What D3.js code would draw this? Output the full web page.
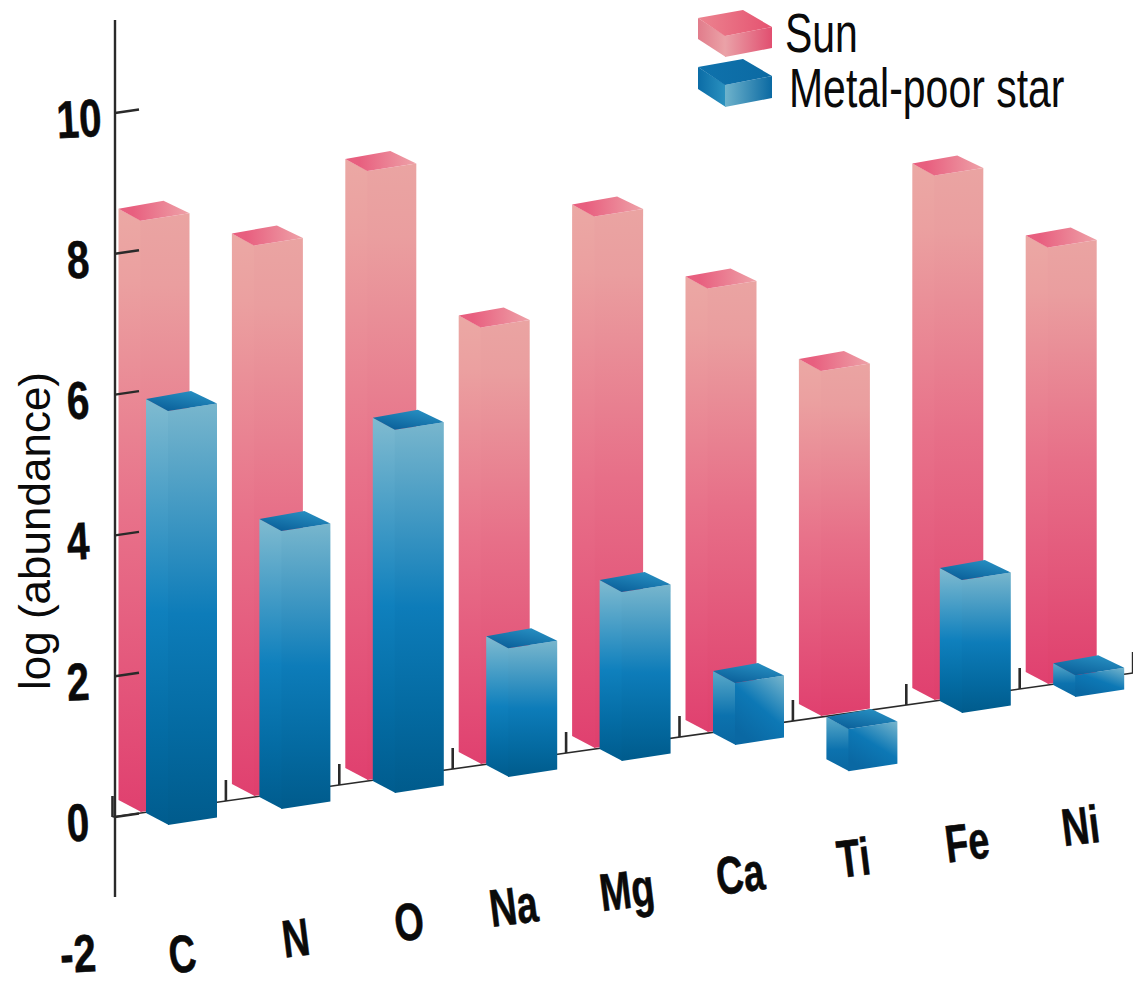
<!DOCTYPE html>
<html>
<head>
<meta charset="utf-8">
<style>
  html, body { margin: 0; padding: 0; background: #fff; overflow: hidden; }
  svg { display: block; }
  text { fill: #0a0a0a; }
  .num { font-family: "Liberation Sans", sans-serif; font-weight: 700; stroke: #0a0a0a; stroke-width: 0.5; }
  .lab { font-family: "Liberation Sans", sans-serif; font-weight: 400; }
</style>
<script src="https://cdn.jsdelivr.net/npm/d3@7/dist/d3.min.js"></script>
</head>
<body>
<svg id="chart" width="1133" height="984"></svg>
<script>
// Log abundance of each element
const elements = ["C", "N", "O", "Na", "Mg", "Ca", "Ti", "Fe", "Ni"];
const sunValues = [8.4, 7.82, 8.65, 6.2, 7.55, 6.3, 4.9, 7.45, 6.2];
const starValues = [5.88, 3.95, 5.16, 1.83, 2.4, 0.88, -0.6, 1.89, 0.31];
const yTicks = [10, 8, 6, 4, 2, 0];
const yLabels = [10, 8, 6, 4, 2, 0, -2];
const legendNames = ["Sun", "Metal-poor star"];

const svg = d3.select("#chart");
const defs = svg.append("defs");

// Vertical scale of the wall and horizontal band scale along the receding floor
const y = d3.scaleLinear().domain([0, 10]).range([816, 112]);
const x = d3.scaleBand().domain(elements).range([112.5, 112.5 + 113.4 * 9]);
const step = x.bandwidth();
const floorRise = 16 / step;
const floorY = px => 817 - (px - 112.5) * floorRise;
const heightOf = v => y(0) - y(v);

function gradient(id, stops, x1, y1, x2, y2) {
  const g = defs.append("linearGradient").attr("id", id)
    .attr("x1", x1).attr("y1", y1).attr("x2", x2).attr("y2", y2);
  stops.forEach(s => g.append("stop").attr("offset", s[0]).attr("stop-color", s[1]));
}
gradient("sunSide", [[0, "#eba8a4"], [0.12, "#eba0a0"], [0.5, "#e8728a"], [1, "#e0406f"]], 0, 0, 0, 1);
gradient("sunSideR", [[0, "#eaa4a2"], [0.12, "#ea9e9f"], [0.5, "#e76f88"], [1, "#df3f6d"]], 0, 0, 0, 1);
gradient("sunTop", [[0, "#e85f7f"], [1, "#eea2a8"]], 0.2, 0.4, 1, 0.4);
gradient("starSide", [[0, "#80bbd0"], [0.5, "#0f80bd"], [0.78, "#046ca4"], [1, "#005c8e"]], 0, 0, 0, 1);
gradient("starSideR", [[0, "#78b6cd"], [0.5, "#0d7cb9"], [0.78, "#046aa1"], [1, "#005b8c"]], 0, 0, 0, 1);
gradient("starTop", [[0, "#0a5f99"], [1, "#2a94c6"]], 0.25, 1, 0.9, 0);
gradient("starShortL", [[0, "#5aa9c9"], [0.6, "#0c72ae"], [1, "#0a67a1"]], 0, 0, 0, 1);
gradient("starShortR", [[0, "#78b6cd"], [0.55, "#0d78b5"], [1, "#0a68a3"]], 1, 0, 0.4, 1);
gradient("legSunTop", [[0, "#ec8490"], [1, "#e55270"]], 0, 0, 1, 0);
gradient("legSunL", [[0, "#e17c8b"], [1, "#eba3a8"]], 0, 0, 1, 0);
gradient("legSunR", [[0, "#eaa2a8"], [1, "#e14f70"]], 0, 0, 1, 0);
gradient("legStarL", [[0, "#0b6ca6"], [1, "#2b92c0"]], 0, 0, 1, 0);
gradient("legStarR", [[0, "#6fb3cc"], [1, "#0a69a2"]], 0, 0, 1, 0);
gradient("legStarTop", [[0, "#0f72ac"], [1, "#0b6aa3"]], 0, 0, 1, 0);

// A box seen from above: the front vertical edge sits at (mx, top..bottom)
function box(g, mx, top, bottom, fills, s) {
  const poly = (pts, fill) => g.append("polygon")
    .attr("points", pts.map(p => p.join(",")).join(" ")).attr("fill", fill);
  const L = [mx - s.lx, top - s.ly], R = [mx + s.rx, top - s.ry];
  // the left face runs slightly under the right one so no seam shows between them
  poly([L, [mx + 0.8, top], [mx + 0.8, bottom], [L[0], bottom - s.ly]], fills.left);
  poly([[mx, top], R, [R[0], bottom - s.ry], [mx, bottom]], fills.right);
  poly([L, [L[0] + s.rx - s.bx, L[1] - s.ry + s.by], R, [mx, top]], fills.top);
}

const barShape = { lx: 22, ly: 12, rx: 49, ry: 7.5, bx: 4, by: -0.5 };

// Floor line and its ticks sit behind the bars
const axes = svg.append("g").attr("stroke", "#2a2a2a").attr("fill", "none");
axes.append("line")
  .attr("x1", 112.5).attr("y1", floorY(112.5))
  .attr("x2", 1133).attr("y2", floorY(1133))
  .attr("stroke-width", 1.6);
const floorTicks = x.domain().map(e => x(e)).concat([x.range()[1]]);
axes.selectAll(".ftick").data(floorTicks).join("line")
  .attr("x1", d => d).attr("x2", d => d)
  .attr("y1", d => floorY(d)).attr("y2", d => floorY(d) - 21)
  .attr("stroke-width", 2.6);

// Bars, element by element, sun behind star
const bars = svg.append("g");
elements.forEach((e, i) => {
  const g = bars.append("g");
  const left = x(e);
  const sunMid = left + 28;
  const sunFloor = floorY(left) - 5;
  box(g, sunMid, sunFloor - heightOf(sunValues[i]), sunFloor,
    { left: "url(#sunSide)", right: "url(#sunSideR)", top: "url(#sunTop)" }, barShape);

  const v = starValues[i];
  const mid = left + 55.5;
  const base = floorY(left) + 8;
  const top = v >= 0 ? base - heightOf(v) : base;
  const bottom = v >= 0 ? base : base - heightOf(v);
  const short = Math.abs(v) < 1;
  box(g, mid, top, bottom, {
    left: short ? "url(#starShortL)" : "url(#starSide)",
    right: short ? "url(#starShortR)" : "url(#starSideR)",
    top: "url(#starTop)"
  }, barShape);
});

// Vertical axis in front of the sun bars
const wall = svg.append("g").attr("stroke", "#2a2a2a").attr("fill", "none");
wall.append("line").attr("x1", 115).attr("x2", 115).attr("y1", 20).attr("y2", 897)
  .attr("stroke-width", 2.4);
wall.selectAll(".ytick").data(yTicks).join("line")
  .attr("x1", 115).attr("x2", 139)
  .attr("y1", d => y(d) + 1).attr("y2", d => y(d) - 2.5)
  .attr("stroke-width", 2.4);

// Value labels
svg.selectAll(".ylab").data(yLabels).join("text")
  .attr("class", "num")
  .attr("text-anchor", "middle")
  .attr("font-size", 48)
  .attr("transform", d => `translate(${d === 10 ? 80 : 79},${d === -2 ? 972 : y(d) + 25}) rotate(-3) scale(0.84,1.1)`)
  .text(d => d);

// Element labels follow the floor
svg.selectAll(".xlab").data(elements).join("text")
  .attr("class", "num")
  .attr("text-anchor", "middle")
  .attr("font-size", 46)
  .attr("transform", e => `translate(${x(e) + (e.length === 1 ? 72 : 63)},${floorY(x(e)) + 155}) rotate(-7) scale(0.82,1.15)`)
  .text(e => e);

// Axis title
svg.append("text").attr("class", "lab")
  .attr("text-anchor", "middle")
  .attr("font-size", 44)
  .attr("transform", "translate(50,531) rotate(-90)")
  .text("log (abundance)");

// Legend
const legend = svg.append("g");
const legendShape = { lx: 27, ly: 18, rx: 47, ry: 9, bx: 2, by: 1 };
box(legend, 725, 36, 57,
  { left: "url(#legSunL)", right: "url(#legSunR)", top: "url(#legSunTop)" }, legendShape);
box(legend, 725, 85, 107,
  { left: "url(#legStarL)", right: "url(#legStarR)", top: "url(#legStarTop)" }, legendShape);
legend.selectAll(".legtext").data(legendNames).join("text")
  .attr("class", "lab")
  .attr("font-size", 55)
  .attr("transform", (d, i) => `translate(${i === 0 ? 785 : 789},${i === 0 ? 52 : 107}) scale(0.745,1)`)
  .text(d => d);
</script>
</body>
</html>
